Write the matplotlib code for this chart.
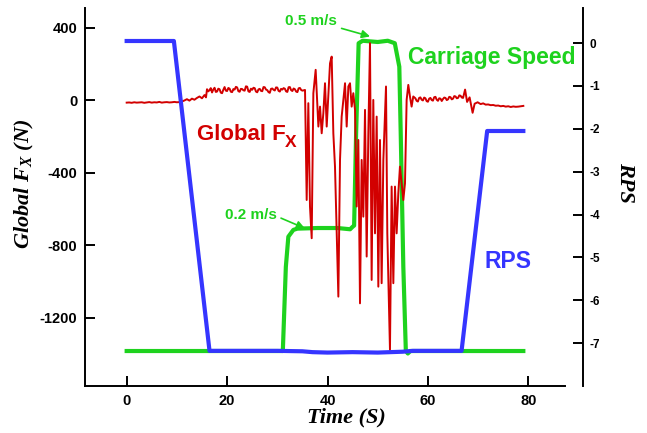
import matplotlib.pyplot as plt

plt.rcParams['font.family'] = 'Liberation Sans'
plt.rcParams['axes.unicode_minus'] = False
plt.rcParams['mathtext.fontset'] = 'custom'
plt.rcParams['mathtext.it'] = 'Liberation Serif:italic:bold'
plt.rcParams['mathtext.rm'] = 'Liberation Serif:bold'

RED = '#d20000'
GREEN = '#1ed21e'
BLUE = '#3535ff'

# Global Fx (N)
fx_t_start = [0, 0.5, 1, 1.5, 2, 2.5, 3, 3.5, 4, 4.5, 5, 5.5, 6, 6.5, 7, 7.5, 8, 8.5,
              9, 9.5, 10, 10.5, 11, 11.5, 12, 12.5, 13, 13.5, 14, 14.5, 15, 15.5, 15.8]
fx_v_start = [-14, -13, -15, -12, -14, -13, -12, -15, -13, -11, -14, -12, -13, -10, -14, -12, -11, -13,
              -12, -10, -12, -11, -8, -2, 5, -3, 8, 2, 12, 20, 10, 28, 15]

fx_t_plateau = [16, 16.25, 16.5, 16.75, 17, 17.25, 17.5, 17.75, 18, 18.25, 18.5, 18.75,
                19, 19.25, 19.5, 19.75, 20, 20.25, 20.5, 20.75, 21, 21.25, 21.5, 21.75,
                22, 22.25, 22.5, 22.75, 23, 23.25, 23.5, 23.75, 24, 24.25, 24.5, 24.75,
                25, 25.25, 25.5, 25.75, 26, 26.25, 26.5, 26.75, 27, 27.25, 27.5, 27.75,
                28, 28.25, 28.5, 28.75, 29, 29.25, 29.5, 29.75, 30, 30.25, 30.5, 30.75,
                31, 31.25, 31.5, 31.75, 32, 32.25, 32.5, 32.75, 33, 33.25, 33.5, 33.75,
                34, 34.25, 34.5, 34.75, 35]
fx_v_plateau = [60, 48, 55, 66, 42, 58, 68, 45, 47, 63, 60, 41, 38, 57, 72, 52, 50, 67, 63, 46,
                44, 61, 58, 73, 70, 49, 46, 62, 61, 54, 52, 76, 74, 48, 45, 63, 57, 68, 66, 47,
                43, 59, 62, 51, 49, 72, 71, 58, 55, 44, 40, 62, 64, 57, 53, 70, 69, 51, 47, 62,
                58, 66, 63, 48, 45, 71, 72, 55, 50, 64, 60, 47, 44, 65, 67, 56, 52]

fx_t_run = [35.52, 35.85, 36.18, 36.51, 36.85, 37.18, 37.64, 38.18, 38.51, 38.84, 39.17, 39.50,
            39.84, 40.50, 40.83, 41.16, 41.49, 41.83, 42.16, 42.49, 42.82, 43.15, 43.49, 43.82,
            44.15, 44.48, 44.81, 45.14, 45.48, 45.81, 46.14, 46.47, 46.80, 47.13, 47.47, 47.80,
            48.13, 48.46, 48.79, 49.12, 49.46, 49.79, 50.12, 50.45, 50.78, 51.12, 51.65, 51.91,
            52.44, 52.77, 53.11, 53.44, 53.77, 54.10, 54.43, 55.10, 55.43, 55.76, 56.09, 56.42,
            56.75, 57.08]
fx_v_run = [56, -551, -17, -587, -762, 38, 167, -146, -36, -183, -72, 93,
            -146, 203, 240, -183, -367, -735, -1084, -330, -91, 1, 93, -146,
            75, 93, -36, 38, -54, -587, -220, -1121, -330, -643, -54, -863,
            -183, 314, -992, 1, -735, -91, -1029, -220, -1010, -330, 75, -735,
            -1378, -477, -1010, -477, -735, -514, -367, -551, -459, 1, 84, 20,
            -36, 20]

fx_t_end = [57.5, 57.75, 58, 58.25, 58.5, 58.75, 59, 59.25, 59.5, 59.75, 60, 60.25, 60.5,
            60.75, 61, 61.25, 61.5, 61.75, 62, 62.25, 62.5, 62.75, 63, 63.25, 63.5, 63.75,
            64, 64.25, 64.5, 64.75, 65, 65.25, 65.5, 65.75, 66, 66.25, 66.5, 66.75, 67,
            67.4, 67.8, 68.3, 68.9, 69.3, 69.9, 70.5, 71, 71.5, 72, 72.5,
            73, 73.5, 74, 74.5, 75, 75.5, 76, 76.5, 77, 77.5, 78, 78.5, 79]
fx_v_end = [10, -4, -8, 12, 15, 2, -2, 14, 10, -6, -9, 8, 12, 0, -3, 16, 18, 2, -4, 10,
            8, -5, 6, 14, 12, 0, 4, 18, 16, 4, 8, 22, 20, 10, 12, 26, 24, 14, 12,
            58, -10, 15, -70, -20, -12, -22, -18, -25, -24, -28,
            -27, -31, -30, -34, -32, -36, -34, -38, -35, -37, -36, -34, -32]

fx_time = fx_t_start + fx_t_plateau + fx_t_run + fx_t_end
fx_vals = fx_v_start + fx_v_plateau + fx_v_run + fx_v_end

# RPS
rps_time = [0, 9.4, 16.5, 20, 25, 30, 35, 37, 40, 45, 50, 55, 57, 60, 66.7, 71.8, 79]
rps_vals = [0.05, 0.05, -7.18, -7.18, -7.18, -7.18, -7.19, -7.21, -7.22, -7.21, -7.22, -7.2,
            -7.18, -7.18, -7.18, -2.05, -2.05]

# carriage speed (m/s)
spd_time = [0, 31.1, 31.7, 32.2, 33.2, 34, 38, 42, 44.5, 45.0, 45.3, 45.7, 46.2, 47, 50, 52,
            53.4, 54.3, 54.58, 55.1, 55.6, 56.0, 56.5, 79]
spd_vals = [0, 0, 0.136, 0.185, 0.196, 0.198, 0.199, 0.199, 0.197, 0.201, 0.203, 0.353, 0.498,
            0.502, 0.5, 0.502, 0.498, 0.46, 0.353, 0.136, 0.0, -0.004, 0, 0]

W, H = 647, 433
fig = plt.figure(figsize=(W / 100, H / 100), dpi=100)
ax = fig.add_axes([85 / W, 47 / H, 480 / W, 378 / H])
ax_v = ax.twinx()
ax_r = ax.twinx()

ax_v.set_zorder(1)
ax.set_zorder(2)
ax_r.set_zorder(3)
ax.patch.set_visible(False)
ax_r.patch.set_visible(False)

ax_v.plot(spd_time, spd_vals, color=GREEN, lw=3.0, solid_joinstyle='round')
ax.plot(fx_time, fx_vals, color=RED, lw=1.4)
ax_r.plot(rps_time, rps_vals, color=BLUE, lw=3.0, solid_joinstyle='round')

ax.set_xlim(-8.3, 87.3)
ax.set_ylim(-1577, 508)
ax_r.set_ylim(-8.0, 0.82)
ax_v.set_ylim(-0.0566, 0.555)

ax.set_xticks([0, 20, 40, 60, 80])
ax.set_yticks([400, 0, -400, -800, -1200])
ax_r.set_yticks([0, -1, -2, -3, -4, -5, -6, -7])

for s in ['top', 'right']:
    ax.spines[s].set_visible(False)
for s in ['top', 'left', 'bottom']:
    ax_r.spines[s].set_visible(False)
ax_r.spines['right'].set_position(('outward', 12.96))
for s in ax_v.spines.values():
    s.set_visible(False)
ax_v.set_yticks([])

for s in ['left', 'bottom']:
    ax.spines[s].set_linewidth(1.4)
ax_r.spines['right'].set_linewidth(1.4)

ax.tick_params(direction='in', length=7.2, width=1.4, labelsize=10.5, pad=5.5)
ax_r.tick_params(direction='in', length=7.2, width=1.4, labelsize=8.5, pad=5)
for lab in ax.get_xticklabels() + ax.get_yticklabels() + ax_r.get_yticklabels():
    lab.set_fontweight('bold')


def fpos(x, y):
    return x / W, 1 - y / H


serif = dict(family='Liberation Serif', weight='bold', style='italic', size=16)
fig.text(*fpos(346, 417), 'Time (S)', ha='center', va='center', **serif)
fig.text(*fpos(24, 184), r'Global $F_X$ (N)', rotation=90, ha='center', va='center', **serif)
fig.text(*fpos(625, 182), 'RPS', rotation=-90, ha='center', va='center', **serif)

fig.text(*fpos(197, 140), 'Global F', color=RED, weight='bold', size=16, va='baseline')
fig.text(*fpos(285, 147), 'X', color=RED, weight='bold', size=12.5, va='baseline')
fig.text(*fpos(408, 64), 'Carriage Speed', color=GREEN, weight='bold', size=16.5, va='baseline')
fig.text(*fpos(484, 268), 'RPS', color=BLUE, weight='bold', size=16.5, va='baseline')

ax_v.text(41.9, 0.534, '0.5 m/s', color=GREEN, weight='bold', size=11, ha='right', va='center')
ax_v.text(29.9, 0.22, '0.2 m/s', color=GREEN, weight='bold', size=11, ha='right', va='center')
arrow = dict(arrowstyle='-|>', color=GREEN, lw=1.2, mutation_scale=12, shrinkA=0, shrinkB=0)
ax_v.annotate('', xy=(48.47, 0.509), xytext=(42.8, 0.522), arrowprops=arrow, annotation_clip=False)
ax_v.annotate('', xy=(35.5, 0.1985), xytext=(30.74, 0.215), arrowprops=arrow, annotation_clip=False)

fig.savefig('out.png', dpi=100)
